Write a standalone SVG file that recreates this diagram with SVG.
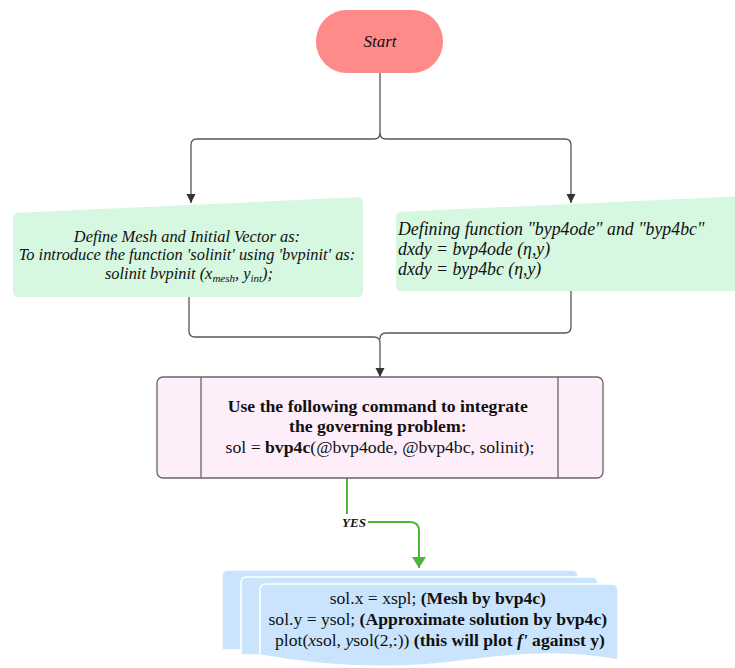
<svg xmlns="http://www.w3.org/2000/svg" width="735" height="668" viewBox="0 0 735 668">
<style>
.conn{fill:none;stroke:#555;stroke-width:1.3}
.green{fill:none;stroke:#4cb43a;stroke-width:2}
.serif{font-family:"Liberation Serif","Times New Roman",serif;fill:#111}
.it{font-style:italic}
.b{font-weight:bold}
.gbox{fill:#d6f7e0}
.doc{fill:#c9e4fc;stroke:#fff;stroke-width:1.5}
</style>
<defs>
<marker id="ah" markerWidth="10" markerHeight="10" refX="9" refY="5" orient="auto" markerUnits="userSpaceOnUse">
<path d="M0,0.5 L9,5 L0,9.5 Z" fill="#333"/>
</marker>
<marker id="ahg" markerWidth="12" markerHeight="14" refX="11" refY="7" orient="auto" markerUnits="userSpaceOnUse">
<path d="M0,0 L11,7 L0,14 Z" fill="#4cb43a"/>
</marker>
</defs>
<rect width="735" height="668" fill="#fff"/>
<g id="connectors">
<path class="conn" d="M380,73 V133 Q380,139 374,139 H197 Q191,139 191,145 V203" marker-end="url(#ah)"/>
<path class="conn" d="M380,133 Q380,139 386,139 H565 Q571,139 571,145 V203" marker-end="url(#ah)"/>
<path class="conn" d="M189,297 V331 Q189,337 195,337 H374 Q380,337 380,343 V377" marker-end="url(#ah)"/>
<path class="conn" d="M571,291 V327 Q571,333 565,333 H386 Q380,333 380,339"/>
<path class="green" d="M347,478 V522 H410 Q419,522 419,531 V568" marker-end="url(#ahg)"/>
<rect x="340" y="514" width="28" height="16" fill="#fff"/>
<text x="354" y="527" text-anchor="middle" class="serif it b" font-size="13">YES</text>
</g>
<g id="start">
<rect x="316" y="10" width="127" height="63" rx="31" fill="#ff8a8a"/>
<text x="380" y="47" text-anchor="middle" class="serif it" font-size="17">Start</text>
</g>
<g id="mesh">
<path class="gbox" d="M13,218 Q13,213 19,212.7 L357,197.3 Q363,197 363,203 V291 Q363,297 357,297 H19 Q13,297 13,291 Z"/>
<text class="serif it" font-size="16.4" text-anchor="middle">
<tspan x="189" y="242">Define Mesh and Initial Vector as:</tspan>
<tspan x="189" y="260">To introduce the function 'solinit' using 'bvpinit' as:</tspan>
<tspan x="189" y="279">solinit bvpinit (x<tspan font-size="11" dy="3">mesh</tspan><tspan dy="-3">, y</tspan><tspan font-size="11" dy="3">int</tspan><tspan dy="-3">);</tspan></tspan>
</text>
</g>
<g id="define">
<path class="gbox" d="M396,217 Q396,212 401,211.8 L735,196.5 V291 H402 Q396,291 396,285 Z"/>
<text class="serif it" font-size="17.8">
<tspan x="398" y="235">Defining function "byp4ode" and "byp4bc"</tspan>
<tspan x="398" y="255">dxdy = bvp4ode (η,y)</tspan>
<tspan x="398" y="275">dxdy = byp4bc (η,y)</tspan>
</text>
</g>
<g id="integrate">
<rect x="157" y="377" width="446" height="101" rx="6" fill="#fdeefa" stroke="#666" stroke-width="1.3"/>
<line x1="201" y1="377" x2="201" y2="478" stroke="#666" stroke-width="1.3"/>
<line x1="558" y1="377" x2="558" y2="478" stroke="#666" stroke-width="1.3"/>
<text class="serif" font-size="17.7" text-anchor="middle">
<tspan x="380" y="412" class="b">Use the following command to integrate</tspan>
<tspan x="380" y="432" class="b">the governing problem:</tspan>
<tspan x="380" y="453">sol = <tspan class="b">bvp4c</tspan>(@bvp4ode, @bvp4bc, solinit);</tspan>
</text>
</g>
<g id="output">
<path class="doc" d="M222,576 Q222,570 228,570 H572 Q578,570 578,576 V650 H222 Z"/>
<path class="doc" d="M241,583 Q241,577 247,577 H592 Q598,577 598,583 V655 H241 Z"/>
<path class="doc" d="M260,590 Q260,584 266,584 H612 Q618,584 618,590 V660 C575,652 530,652 470,660 C400,670 330,668 260,655 Z"/>
<text class="serif" font-size="17.6" text-anchor="middle">
<tspan x="440" y="604">sol.x = xspl; <tspan class="b">(Mesh by bvp4c)</tspan></tspan>
<tspan x="440" y="625">sol.y = ysol; <tspan class="b">(Approximate solution by bvp4c)</tspan></tspan>
<tspan x="440" y="646">plot(<tspan class="it">x</tspan>sol, <tspan class="it">y</tspan>sol(2,:)) <tspan class="b">(this will plot <tspan class="it">f'</tspan> against y)</tspan></tspan>
</text>
</g>
</svg>
